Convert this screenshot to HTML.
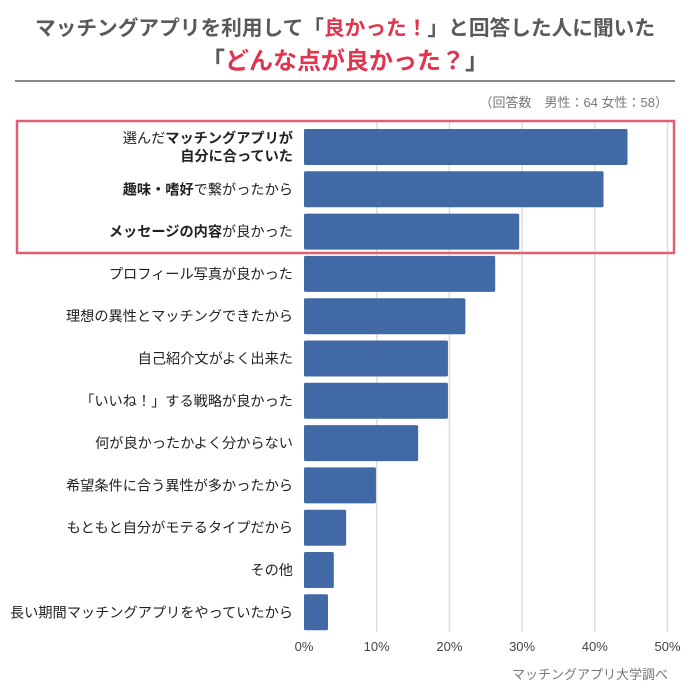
<!DOCTYPE html>
<html><head><meta charset="utf-8">
<style>
body{margin:0;width:690px;height:690px;background:#fff;font-family:"Liberation Sans","Noto Sans CJK JP",sans-serif;position:relative;overflow:hidden}
.t{position:absolute;left:0;width:690px;text-align:center;font-weight:bold;color:#5a5a5a}
.r{color:#e0344f}
</style></head><body>
<div class="t" style="top:11px;font-size:20.7px">マッチングアプリを利用して「<span class="r">良かった！</span>」と回答した人に聞いた</div>
<div class="t" style="top:41px;font-size:24px">「<span class="r">どんな点が良かった？</span>」</div>
<div style="position:absolute;left:15px;top:80px;width:660px;height:2px;background:#8a8a8a"></div>
<div style="position:absolute;right:22px;top:92px;font-size:13px;color:#777">（回答数　男性：64 女性：58）</div>
<svg id="c" width="690" height="690" style="position:absolute;left:0;top:0"></svg>
<div style="position:absolute;right:22px;top:664px;font-size:13px;color:#777">マッチングアプリ大学調べ</div>
<script>
const categories=["選んだ<b>マッチングアプリが</b>|<b>自分に合っていた</b>","<b>趣味・嗜好</b>で繋がったから","<b>メッセージの内容</b>が良かった","プロフィール写真が良かった","理想の異性とマッチングできたから","自己紹介文がよく出来た","「いいね！」する戦略が良かった","何が良かったかよく分からない","希望条件に合う異性が多かったから","もともと自分がモテるタイプだから","その他","長い期間マッチングアプリをやっていたから"];
const values=[44.5,41.2,29.6,26.3,22.2,19.8,19.8,15.7,9.9,5.8,4.1,3.3];
const ticks=[0,10,20,30,40,50];
const ns="http://www.w3.org/2000/svg";
const svg=document.getElementById("c");
const x=v=>304+v*7.27;
const y=i=>129+i*42.3;
const bh=36;
function mk(t,a){const e=document.createElementNS(ns,t);for(const k in a)e.setAttribute(k,a[k]);svg.appendChild(e);return e;}
ticks.forEach(t=>{
 if(t>0){const l=mk("line",{x1:x(t),x2:x(t),y1:122,y2:632,stroke:"#ddd","stroke-width":1.5});
 
 }
 const tx=mk("text",{x:x(t),y:651,"text-anchor":"middle","font-size":13,fill:"#444"});tx.textContent=t+"%";
 
 
});
values.forEach((v,i)=>{
 const r=mk("rect",{x:x(0),y:y(i),width:x(v)-x(0),height:bh,fill:"#4169a6",rx:1.5});
 
 
 const parts=categories[i].split("|");
 const cy=y(i)+bh/2;
 parts.forEach((p,j)=>{
  const tx=mk("text",{x:293,y:cy+5+(j-(parts.length-1)/2)*18,"text-anchor":"end","font-size":14.2,fill:"#222"});
  tx.innerHTML=p.replace(/<b>/g,'<tspan font-weight="bold">').replace(/<\/b>/g,'</tspan>');
  
  
 });
});
const box=mk("rect",{x:17,y:121,width:657,height:132,fill:"none",stroke:"#e06073","stroke-width":2.5});


</script>
</body></html>
